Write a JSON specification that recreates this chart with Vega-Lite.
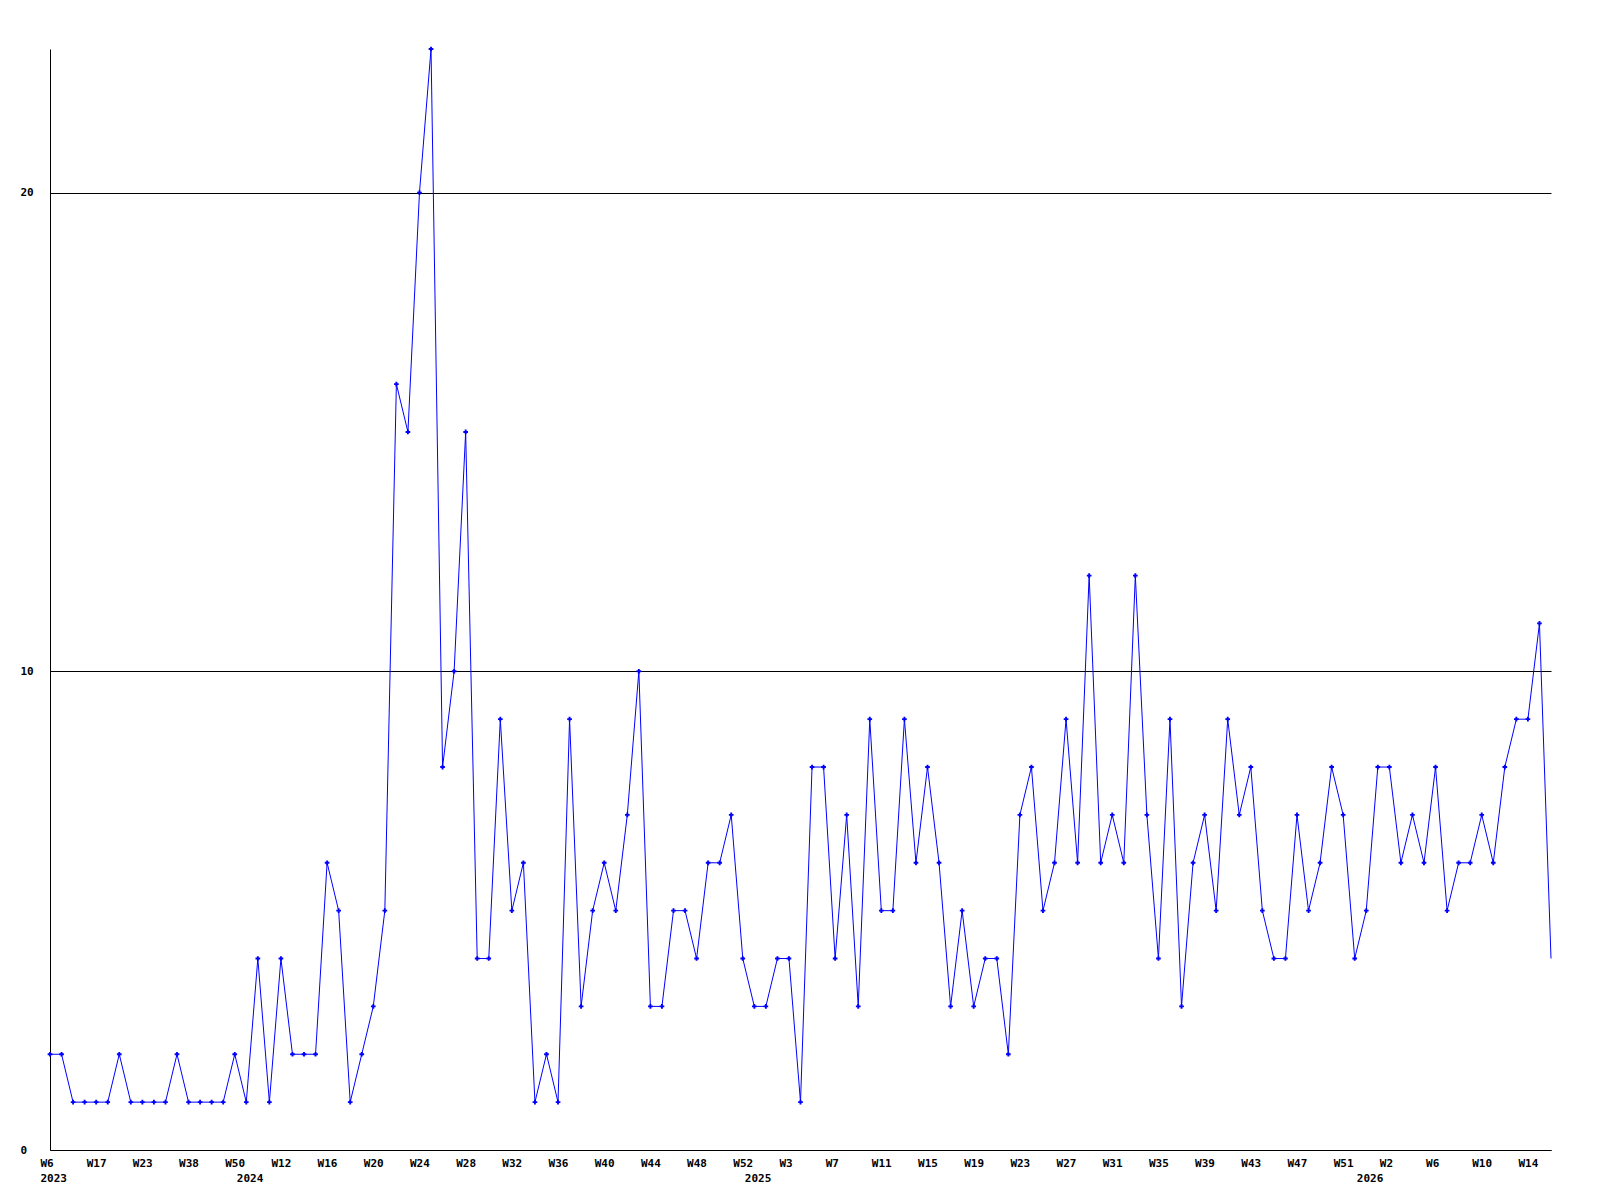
{
  "$schema": "https://vega.github.io/schema/vega-lite/v6.json",
  "width": 1501,
  "height": 1101,
  "autosize": {"type": "none"},
  "padding": {"left": 50, "top": 49, "right": 49, "bottom": 50},
  "background": "white",
  "config": {"view": {"stroke": null}},
  "data": {"values": [
    {"k":"2023-W6","v":2},{"k":"2023-W9","v":2},{"k":"2023-W12","v":1},{"k":"2023-W15","v":1},{"k":"2023-W17","v":1},
    {"k":"2023-W19","v":1},{"k":"2023-W20","v":2},{"k":"2023-W22","v":1},{"k":"2023-W23","v":1},{"k":"2023-W26","v":1},
    {"k":"2023-W30","v":1},{"k":"2023-W35","v":2},{"k":"2023-W38","v":1},{"k":"2023-W41","v":1},{"k":"2023-W45","v":1},
    {"k":"2023-W48","v":1},{"k":"2023-W50","v":2},
    {"k":"2024-W5","v":1},{"k":"2024-W8","v":4},{"k":"2024-W10","v":1},{"k":"2024-W12","v":4},{"k":"2024-W13","v":2},
    {"k":"2024-W14","v":2},{"k":"2024-W15","v":2},{"k":"2024-W16","v":6},{"k":"2024-W17","v":5},{"k":"2024-W18","v":1},
    {"k":"2024-W19","v":2},{"k":"2024-W20","v":3},{"k":"2024-W21","v":5},{"k":"2024-W22","v":16},{"k":"2024-W23","v":15},
    {"k":"2024-W24","v":20},{"k":"2024-W25","v":23},{"k":"2024-W26","v":8},{"k":"2024-W27","v":10},{"k":"2024-W28","v":15},
    {"k":"2024-W29","v":4},{"k":"2024-W30","v":4},{"k":"2024-W31","v":9},{"k":"2024-W32","v":5},{"k":"2024-W33","v":6},
    {"k":"2024-W34","v":1},{"k":"2024-W35","v":2},{"k":"2024-W36","v":1},{"k":"2024-W37","v":9},{"k":"2024-W38","v":3},
    {"k":"2024-W39","v":5},{"k":"2024-W40","v":6},{"k":"2024-W41","v":5},{"k":"2024-W42","v":7},{"k":"2024-W43","v":10},
    {"k":"2024-W44","v":3},{"k":"2024-W45","v":3},{"k":"2024-W46","v":5},{"k":"2024-W47","v":5},{"k":"2024-W48","v":4},
    {"k":"2024-W49","v":6},{"k":"2024-W50","v":6},{"k":"2024-W51","v":7},{"k":"2024-W52","v":4},
    {"k":"2025-W0","v":3},{"k":"2025-W1","v":3},{"k":"2025-W2","v":4},{"k":"2025-W3","v":4},{"k":"2025-W4","v":1},
    {"k":"2025-W5","v":8},{"k":"2025-W6","v":8},{"k":"2025-W7","v":4},{"k":"2025-W8","v":7},{"k":"2025-W9","v":3},
    {"k":"2025-W10","v":9},{"k":"2025-W11","v":5},{"k":"2025-W12","v":5},{"k":"2025-W13","v":9},{"k":"2025-W14","v":6},
    {"k":"2025-W15","v":8},{"k":"2025-W16","v":6},{"k":"2025-W17","v":3},{"k":"2025-W18","v":5},{"k":"2025-W19","v":3},
    {"k":"2025-W20","v":4},{"k":"2025-W21","v":4},{"k":"2025-W22","v":2},{"k":"2025-W23","v":7},{"k":"2025-W24","v":8},
    {"k":"2025-W25","v":5},{"k":"2025-W26","v":6},{"k":"2025-W27","v":9},{"k":"2025-W28","v":6},{"k":"2025-W29","v":12},
    {"k":"2025-W30","v":6},{"k":"2025-W31","v":7},{"k":"2025-W32","v":6},{"k":"2025-W33","v":12},{"k":"2025-W34","v":7},
    {"k":"2025-W35","v":4},{"k":"2025-W36","v":9},{"k":"2025-W37","v":3},{"k":"2025-W38","v":6},{"k":"2025-W39","v":7},
    {"k":"2025-W40","v":5},{"k":"2025-W41","v":9},{"k":"2025-W42","v":7},{"k":"2025-W43","v":8},{"k":"2025-W44","v":5},
    {"k":"2025-W45","v":4},{"k":"2025-W46","v":4},{"k":"2025-W47","v":7},{"k":"2025-W48","v":5},{"k":"2025-W49","v":6},
    {"k":"2025-W50","v":8},{"k":"2025-W51","v":7},{"k":"2025-W52","v":4},
    {"k":"2026-W0","v":5},{"k":"2026-W1","v":8},{"k":"2026-W2","v":8},{"k":"2026-W3","v":6},{"k":"2026-W4","v":7},
    {"k":"2026-W5","v":6},{"k":"2026-W6","v":8},{"k":"2026-W7","v":5},{"k":"2026-W8","v":6},{"k":"2026-W9","v":6},
    {"k":"2026-W10","v":7},{"k":"2026-W11","v":6},{"k":"2026-W12","v":8},{"k":"2026-W13","v":9},{"k":"2026-W14","v":9},
    {"k":"2026-W15","v":11},{"k":"2026-W16","v":4}
  ]},
  "encoding": {
    "y": {
      "field": "v", "type": "quantitative",
      "scale": {"domain": [0, 23], "nice": false, "zero": true},
      "axis": {
        "title": null, "values": [0, 10, 20],
        "labelAlign": "left", "labelBaseline": "middle", "labelPadding": 30,
        "labelFont": "DejaVu Sans Mono", "labelFontWeight": "bold", "labelFontSize": 11, "labelColor": "#000000",
        "ticks": false, "tickSize": 0,
        "domainColor": "#000000", "domainWidth": 1,
        "grid": true, "gridColor": "#000000", "gridOpacity": 1, "gridWidth": 1
      }
    }
  },
  "layer": [
    {
      "mark": {"type": "line", "color": "#0000ff", "strokeWidth": 1},
      "encoding": {
        "x": {
          "field": "k", "type": "ordinal", "sort": null,
          "scale": {"type": "point", "padding": 0},
          "axis": {
            "title": null, "orient": "bottom",
            "values": ["2023-W6","2023-W17","2023-W23","2023-W38","2023-W50","2024-W12","2024-W16","2024-W20","2024-W24","2024-W28","2024-W32","2024-W36","2024-W40","2024-W44","2024-W48","2024-W52","2025-W3","2025-W7","2025-W11","2025-W15","2025-W19","2025-W23","2025-W27","2025-W31","2025-W35","2025-W39","2025-W43","2025-W47","2025-W51","2026-W2","2026-W6","2026-W10","2026-W14"],
            "labelExpr": "split(datum.value, '-')[1]",
            "labelAngle": 0, "labelAlign": "left", "labelBaseline": "top", "labelOffset": -10, "labelPadding": 7,
            "labelOverlap": false, "labelBound": false, "labelFlush": false,
            "labelFont": "DejaVu Sans Mono", "labelFontWeight": "bold", "labelFontSize": 11, "labelColor": "#000000",
            "ticks": false, "tickSize": 0, "grid": false,
            "domainColor": "#000000", "domainWidth": 1
          }
        }
      }
    },
    {
      "transform": [{"filter": "datum.k != '2026-W16'"}],
      "mark": {"type": "point", "shape": "cross", "filled": true, "color": "#0000ff", "size": 22, "opacity": 1},
      "encoding": {
        "x": {
          "field": "k", "type": "ordinal", "sort": null,
          "scale": {"type": "point", "padding": 0},
          "axis": {
            "title": null, "orient": "bottom",
            "values": ["2023-W6", "2024-W5", "2025-W0", "2026-W0"],
            "labelExpr": "slice(datum.value, 0, 4)",
            "labelAngle": 0, "labelAlign": "left", "labelBaseline": "top", "labelOffset": -10, "labelPadding": 22,
            "labelOverlap": false, "labelBound": false, "labelFlush": false,
            "labelFont": "DejaVu Sans Mono", "labelFontWeight": "bold", "labelFontSize": 11, "labelColor": "#000000",
            "ticks": false, "tickSize": 0, "grid": false, "domain": false
          }
        }
      }
    }
  ],
  "resolve": {"axis": {"x": "independent"}}
}
